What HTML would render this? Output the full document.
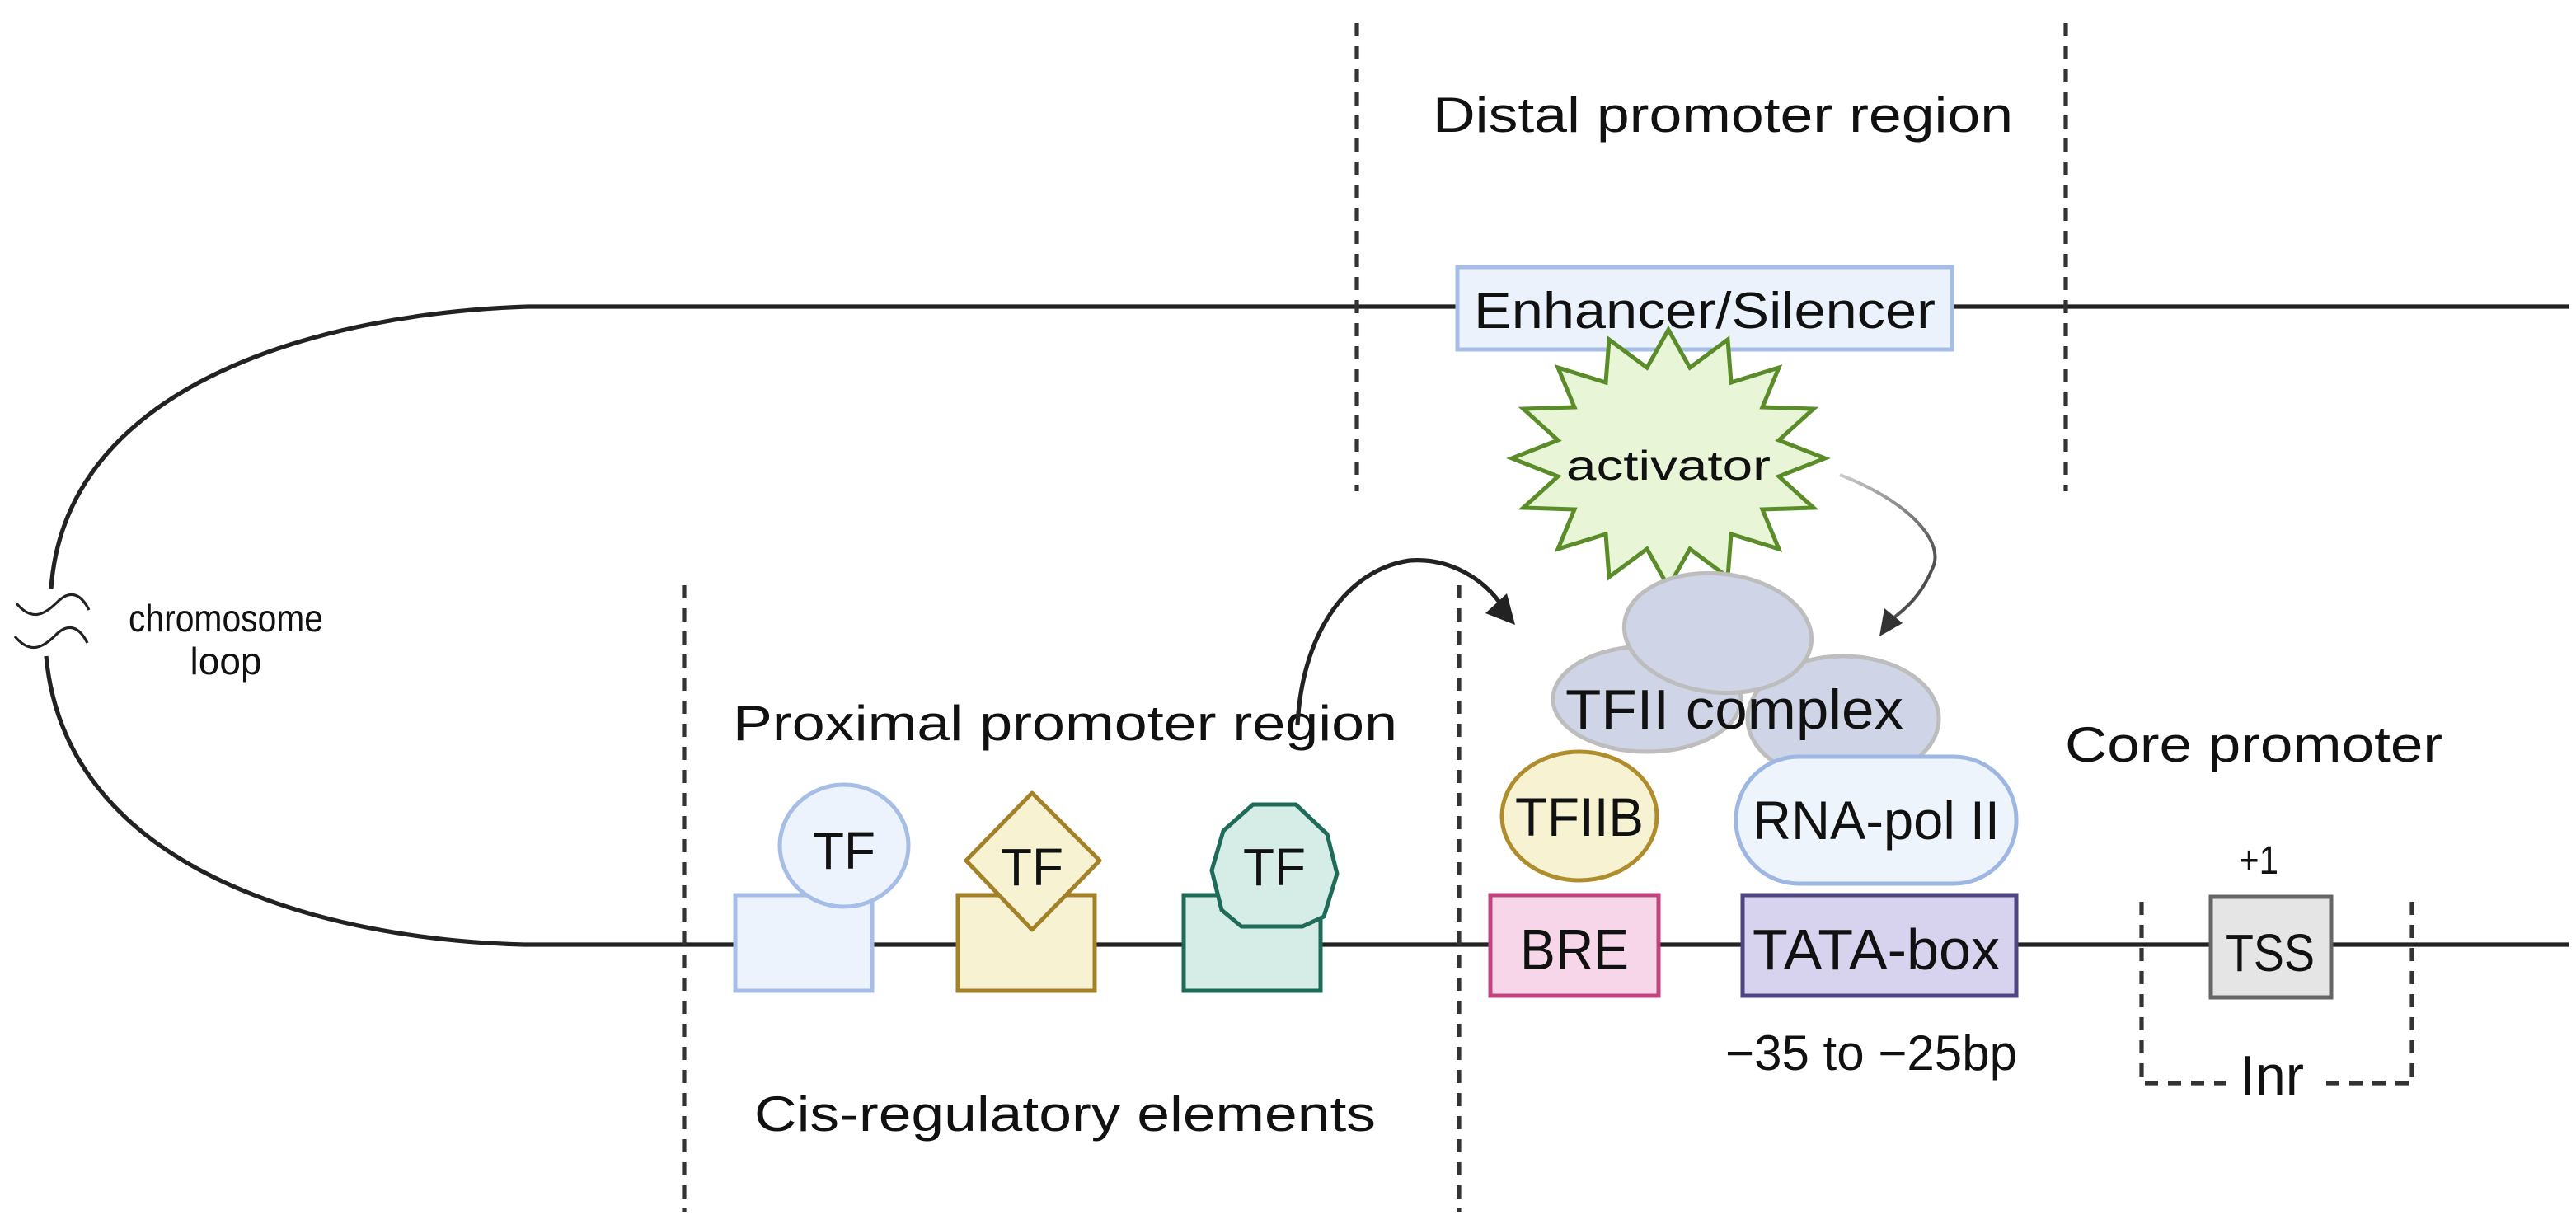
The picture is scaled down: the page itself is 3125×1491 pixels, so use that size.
<!DOCTYPE html>
<html><head><meta charset="utf-8"><style>
html,body{margin:0;padding:0;background:#fff;}
svg{display:block;}
text{font-family:"Liberation Sans",sans-serif;fill:#111;}
</style></head><body>
<svg width="3125" height="1491" viewBox="0 0 1562.5 745.5" xmlns="http://www.w3.org/2000/svg">
<rect width="1562.5" height="745.5" fill="#fff"/>
<g stroke="#222" stroke-width="2.6" fill="none">
<path d="M1558,186 L320,186 C200,190 40,230 31,357"/>
<path d="M1558,573 L318,573 C200,570 40,530 28,398"/>
<path d="M10,366 C20,378 28,372 36,364 C44,357 50,362 54,370" stroke-width="1.6"/>
<path d="M9,386 C19,398 27,392 35,384 C43,377 49,382 53,390" stroke-width="1.6"/>
</g>
<g stroke="#333" stroke-width="2.6" stroke-dasharray="8,6" fill="none">
<line x1="823" y1="14" x2="823" y2="298"/>
<line x1="1253" y1="14" x2="1253" y2="298"/>
<line x1="415" y1="355" x2="415" y2="735"/>
<line x1="885" y1="355" x2="885" y2="735"/>
<path d="M1299,547 L1299,657 L1350,657"/>
<path d="M1463,547 L1463,657 L1410,657"/>
</g>
<text x="1045" y="80" font-size="30" text-anchor="middle" textLength="352" lengthAdjust="spacingAndGlyphs">Distal promoter region</text>
<text x="646" y="449" font-size="30" text-anchor="middle" textLength="403" lengthAdjust="spacingAndGlyphs">Proximal promoter region</text>
<text x="646" y="686" font-size="30" text-anchor="middle" textLength="377" lengthAdjust="spacingAndGlyphs">Cis-regulatory elements</text>
<text x="1367" y="462" font-size="30" text-anchor="middle" textLength="229" lengthAdjust="spacingAndGlyphs">Core promoter</text>
<text x="1135" y="649" font-size="30" text-anchor="middle" textLength="177" lengthAdjust="spacingAndGlyphs">−35 to −25bp</text>
<text x="1370" y="530" font-size="24" text-anchor="middle" textLength="24" lengthAdjust="spacingAndGlyphs">+1</text>
<text x="1378" y="664" font-size="34" text-anchor="middle" textLength="39" lengthAdjust="spacingAndGlyphs">Inr</text>
<text x="137" y="383" font-size="23" text-anchor="middle" textLength="118" lengthAdjust="spacingAndGlyphs">chromosome</text>
<text x="137" y="409" font-size="23" text-anchor="middle">loop</text>
<path d="M787,440 C790,380 820,345 855,340 C880,338 900,352 910,366" stroke="#222" stroke-width="2.6" fill="none"/>
<polygon points="919,379 901,372 914,360" fill="#222"/>
<defs><linearGradient id="g1" x1="0" y1="0" x2="1" y2="1"><stop offset="0" stop-color="#ccc"/><stop offset="1" stop-color="#333"/></linearGradient></defs>
<path d="M1116,288 C1160,305 1180,330 1172,345 C1165,362 1155,370 1147,376" stroke="url(#g1)" stroke-width="2" fill="none"/>
<polygon points="1140,386 1143,369 1154,378" fill="#333"/>
<rect x="884" y="162" width="300" height="50" fill="#ebf2fc" stroke="#a6bde6" stroke-width="2.5"/>
<text x="1034" y="199" font-size="31" text-anchor="middle" textLength="280" lengthAdjust="spacingAndGlyphs">Enhancer/Silencer</text>
<polygon points="1012,200 1025,223 1048,206 1050,232 1079,223 1069,247 1100,248 1079,267 1107,278 1079,289 1100,308 1069,309 1079,333 1050,324 1048,350 1025,333 1012,356 999,333 976,350 974,324 945,333 955,309 924,308 945,289 917,278 945,267 924,248 955,247 945,223 974,232 976,206 999,223" fill="#e9f5d7" stroke="#5b8c2a" stroke-width="2.5"/>
<text x="1012" y="291" font-size="25" text-anchor="middle" textLength="124" lengthAdjust="spacingAndGlyphs">activator</text>
<g fill="#cfd5e7" stroke="#bdbdbd" stroke-width="2.5">
<ellipse cx="1118" cy="436" rx="58" ry="38"/>
<ellipse cx="999" cy="424" rx="57" ry="32"/>
<ellipse cx="1042" cy="384" rx="57" ry="36" transform="rotate(6 1042 384)"/>
</g>
<text x="1052" y="442" font-size="34" text-anchor="middle" textLength="205" lengthAdjust="spacingAndGlyphs">TFII complex</text>
<ellipse cx="958" cy="495" rx="47" ry="39" fill="#f6f2d2" stroke="#b08d2c" stroke-width="2.5"/>
<text x="958" y="507" font-size="33" text-anchor="middle" textLength="78" lengthAdjust="spacingAndGlyphs">TFIIB</text>
<rect x="1053" y="459" width="170" height="77" rx="38" fill="#eef4fc" stroke="#9db6e2" stroke-width="2.5"/>
<text x="1138" y="509" font-size="33" text-anchor="middle" textLength="150" lengthAdjust="spacingAndGlyphs">RNA-pol II</text>
<rect x="904" y="543" width="102" height="61" fill="#f7d6ea" stroke="#c0457f" stroke-width="2.5"/>
<text x="955" y="588" font-size="35" text-anchor="middle" textLength="66" lengthAdjust="spacingAndGlyphs">BRE</text>
<rect x="1057" y="543" width="166" height="61" fill="#d7d3ee" stroke="#4f4681" stroke-width="2.5"/>
<text x="1138" y="588" font-size="35" text-anchor="middle" textLength="150" lengthAdjust="spacingAndGlyphs">TATA-box</text>
<rect x="1341" y="544" width="73" height="61" fill="#e5e5e5" stroke="#666" stroke-width="2.5"/>
<text x="1377" y="589" font-size="32" text-anchor="middle" textLength="54" lengthAdjust="spacingAndGlyphs">TSS</text>
<rect x="446" y="543" width="83" height="58" fill="#ecf3fc" stroke="#a6bde6" stroke-width="2.5"/>
<ellipse cx="512" cy="513" rx="39" ry="37" fill="#ecf3fc" stroke="#a6bde6" stroke-width="2.5"/>
<text x="512" y="527" font-size="32" text-anchor="middle" textLength="38" lengthAdjust="spacingAndGlyphs">TF</text>
<rect x="581" y="543" width="83" height="58" fill="#f6f2d2" stroke="#a38128" stroke-width="2.5"/>
<polygon points="626,481 667,522 626,564 586,522" fill="#f6f2d2" stroke="#a38128" stroke-width="2.5" stroke-linejoin="round"/>
<text x="626" y="537" font-size="32" text-anchor="middle" textLength="38" lengthAdjust="spacingAndGlyphs">TF</text>
<rect x="718" y="543" width="83" height="58" fill="#d5ede6" stroke="#1f6b5a" stroke-width="2.5"/>
<polygon points="760,488 786,488 805,506 811,530 803,556 790,562 753,562 741,552 735,528 742,504" fill="#d5ede6" stroke="#1f6b5a" stroke-width="2.5" stroke-linejoin="round"/>
<text x="773" y="537" font-size="32" text-anchor="middle" textLength="38" lengthAdjust="spacingAndGlyphs">TF</text>
</svg>
</body></html>
